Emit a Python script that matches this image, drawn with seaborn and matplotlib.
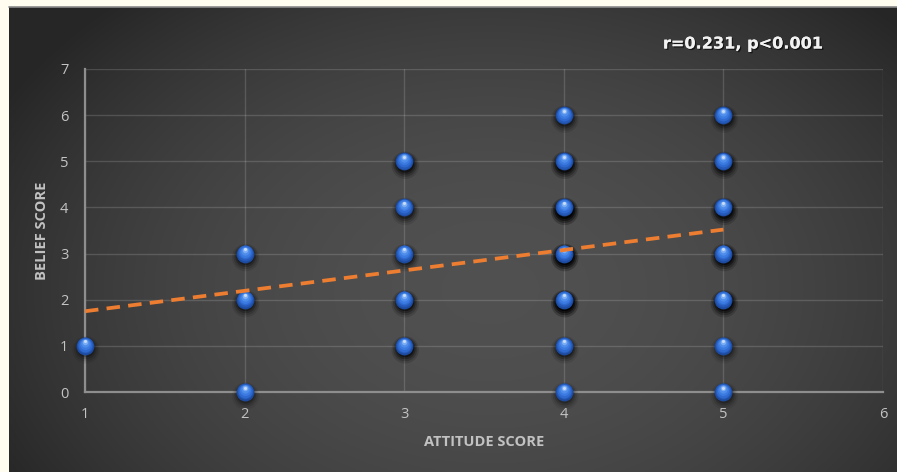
import numpy as np
import pandas as pd
import matplotlib
matplotlib.use("Agg")
import matplotlib.pyplot as plt
import seaborn as sns
from matplotlib import transforms, patheffects
from matplotlib.lines import Line2D

# ---- data ----
attitude = [1, 2, 2, 2, 3, 3, 3, 3, 3,
            4, 4, 4, 4, 4, 4, 4,
            5, 5, 5, 5, 5, 5, 5]
belief = [1, 0, 2, 3, 1, 2, 3, 4, 5,
          0, 1, 2, 3, 4, 5, 6,
          0, 1, 2, 3, 4, 5, 6]
# estimated number of overlapping respondents (from shadow darkness)
count = [1, 1, 2, 2, 3, 3, 2, 2, 3,
         1, 2, 6, 6, 6, 4, 2,
         1, 1, 4, 4, 4, 3, 2]
trend_x = [1, 5]
trend_y = [1.75, 3.52]
x_ticks = [1, 2, 3, 4, 5, 6]
y_ticks = [0, 1, 2, 3, 4, 5, 6, 7]
x_label = "ATTITUDE SCORE"
y_label = "BELIEF SCORE"
annotation = "r=0.231, p<0.001"

df = pd.DataFrame({"attitude": attitude, "belief": belief, "n": count})

sns.set_style("white")
plt.rcParams["font.family"] = ["Open Sans", "DejaVu Sans"]

W, H = 897, 472
fig = plt.figure(figsize=(W / 100, H / 100), dpi=100, facecolor="#fffdf0")

# ---- gradient background ----
bx0, by_top = 9, 7
bg = fig.add_axes([bx0 / W, 0, (W - bx0) / W, (H - by_top) / H])
gx = np.linspace(bx0, W, 400)
gy = np.linspace(by_top, H, 220)
GX, GY = np.meshgrid(gx, gy)
r2 = ((GX - 490) / 540) ** 2 + ((GY - 290) / 380) ** 2
val = np.clip(0.315 - 0.155 * r2, 0.15, 0.33)
img = np.dstack([val, val, val])
bg.imshow(img, aspect="auto", extent=[0, 1, 0, 1], origin="upper")
bg.set_axis_off()
fig.add_artist(Line2D([bx0 / W, 1], [1 - by_top / H, 1 - by_top / H],
                      transform=fig.transFigure, color="#8a8a8a", lw=1.2))

# ---- main axes ----
L, R, T, B = 85, 883, 69, 392
ax = fig.add_axes([L / W, 1 - B / H, (R - L) / W, (B - T) / H])
ax.set_facecolor("none")
ax.set_xlim(1, 6)
ax.set_ylim(0, 7)
ax.set_xticks(x_ticks)
ax.set_yticks(y_ticks)
ax.grid(True, color="#ffffff", alpha=0.15, lw=1.0)
ax.set_axisbelow(True)
for s in ["top", "right"]:
    ax.spines[s].set_visible(False)
for s in ["left", "bottom"]:
    ax.spines[s].set_color("#8e8e8e")
    ax.spines[s].set_linewidth(1.6)
ax.tick_params(axis="both", length=0, colors="#c4c4c4", labelsize=10.5)
ax.tick_params(axis="x", pad=11)
ax.tick_params(axis="y", pad=12)


def off(dx, dy):
    return transforms.offset_copy(ax.transData, fig=fig, x=dx, y=dy, units="dots")


ns = np.array(count, dtype=float)
# shadows
for m, a, dy in [(2.6, 0.06, -4), (2.0, 0.09, -3.5), (1.5, 0.14, -3), (1.1, 0.2, -2.5)]:
    alphas = np.clip(a * (0.6 + 0.55 * ns), 0, 1)
    ax.scatter(attitude, belief, s=150 * m, color="black", alpha=alphas,
               linewidths=0, transform=off(1, dy), zorder=3, clip_on=False)

# sphere body
sns.scatterplot(data=df, x="attitude", y="belief", ax=ax, s=165, color="#1c4a9e",
                linewidth=0, zorder=4, clip_on=False, legend=False)
for s_, c_, dy in [(130, "#2559b8", 0.6), (98, "#2f6ad0", 1.3), (64, "#3b7ae0", 2.0),
                   (36, "#4f8deb", 2.9), (15, "#7eaef2", 3.8), (5, "#c6dcfa", 4.5)]:
    ax.scatter(attitude, belief, s=s_, color=c_, linewidths=0,
               transform=off(0, dy), zorder=5, clip_on=False)

# trend line
sns.lineplot(x=trend_x, y=trend_y, ax=ax, color="#ed7d31", lw=2.7,
             linestyle=(0, (3.6, 2.2)), zorder=6)

ax.set_xlabel(x_label, color="#c2c2c2", fontsize=10.5, fontweight="bold", labelpad=9)
ax.set_ylabel(y_label, color="#c2c2c2", fontsize=10.5, fontweight="bold", labelpad=8)

txt = fig.text(743 / W, 1 - 44 / H, annotation, ha="center", va="center",
               color="#f2f2f2", fontsize=11.6, fontweight="bold",
               family=["DejaVu Sans"])
txt.set_path_effects([patheffects.withSimplePatchShadow(offset=(1, -1), alpha=0.6,
                                                        shadow_rgbFace="black"),
                      patheffects.Normal()])

fig.savefig("out.png", dpi=100, facecolor=fig.get_facecolor())
